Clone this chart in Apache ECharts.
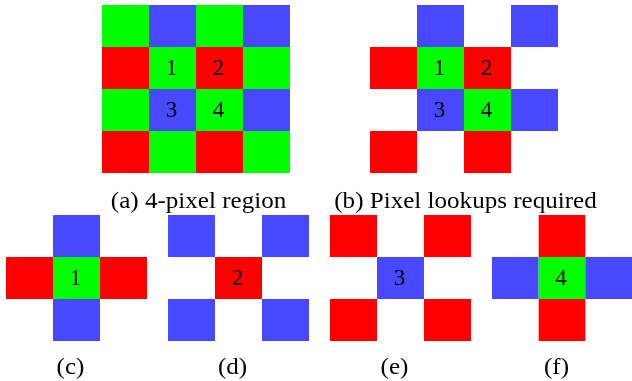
<!DOCTYPE html>
<html>
<head>
<meta charset="utf-8">
<script src="https://cdn.jsdelivr.net/npm/echarts@6/dist/echarts.min.js"></script>
<style>html,body{margin:0;padding:0;background:#fff;}#c{width:632px;height:381px;}</style>
</head>
<body>
<div id="c"></div>
<script>
// Cell codes: colour letter (R/G/B) optionally followed by the cell label; "." = empty
const panelA = [["G","B","G","B"],["R","G1","R2","G"],["G","B3","G4","B"],["R","G","R","G"]];
const panelB = [[".","B",".","B"],["R","G1","R2","."],[".","B3","G4","B"],["R",".","R","."]];
const panelC = [[".","B","."],["R","G1","R"],[".","B","."]];
const panelD = [["B",".","B"],[".","R2","."],["B",".","B"]];
const panelE = [["R",".","R"],[".","B3","."],["R",".","R"]];
const panelF = [[".","R","."],["B","G4","B"],[".","R","."]];
const captions = ["(a) 4-pixel region","(b) Pixel lookups required","(c)","(d)","(e)","(f)"];

const COLORS = {R:"#FF0000", G:"#00FF00", B:"#4848FF"};
const FONT = '"Liberation Serif","DejaVu Serif",serif';

const panels = [
  {cells: panelA, left:102, top:5},
  {cells: panelB, left:370, top:5},
  {cells: panelC, left:6, top:215},
  {cells: panelD, left:168, top:215},
  {cells: panelE, left:330, top:215},
  {cells: panelF, left:492, top:215}
];
const CW = 47, CH = 42;
const capPos = [[198.5,202],[465.5,202],[70.5,368],[232.5,368],[394.5,368],[556.5,368]];

const grids = [], xAxes = [], yAxes = [], series = [];
panels.forEach((p, i) => {
  const rows = p.cells.length, cols = p.cells[0].length;
  grids.push({left:p.left, top:p.top, width:cols*CW, height:rows*CH});
  xAxes.push({gridIndex:i, type:'value', min:0, max:cols, show:false});
  yAxes.push({gridIndex:i, type:'value', min:0, max:rows, inverse:true, show:false});
  const data = [], meta = [];
  p.cells.forEach((row, r) => row.forEach((code, c) => {
    if (code === '.') return;
    data.push([c, r]);
    meta.push({color: COLORS[code[0]], label: code.slice(1)});
  }));
  series.push({
    type:'custom', xAxisIndex:i, yAxisIndex:i, data: data, silent:true,
    renderItem: function(params, api) {
      const c = api.value(0), r = api.value(1);
      const p0 = api.coord([c, r]), p1 = api.coord([c+1, r+1]);
      const x = Math.min(p0[0], p1[0]), y = Math.min(p0[1], p1[1]);
      const w = Math.abs(p1[0]-p0[0]), h = Math.abs(p1[1]-p0[1]);
      const m = meta[params.dataIndex];
      const children = [{type:'rect', shape:{x:x, y:y, width:w, height:h}, style:{fill:m.color}}];
      if (m.label) children.push({type:'text', style:{text:m.label, x:x+w/2-1, y:y+h/2+1, align:'center', verticalAlign:'middle', font:'23px ' + FONT, fill:'#000'}});
      return {type:'group', children: children};
    }
  });
});

const graphics = captions.map((t, i) => ({
  type:'text', x: capPos[i][0], y: capPos[i][1], scaleX: 1.09,
  style:{text:t, align:'center', verticalAlign:'middle', font:'23px ' + FONT, fill:'#000'}
}));

const chart = echarts.init(document.getElementById('c'));
chart.setOption({
  animation:false,
  backgroundColor:'#fff',
  grid: grids, xAxis: xAxes, yAxis: yAxes, series: series,
  graphic: graphics
});
</script>
</body>
</html>
